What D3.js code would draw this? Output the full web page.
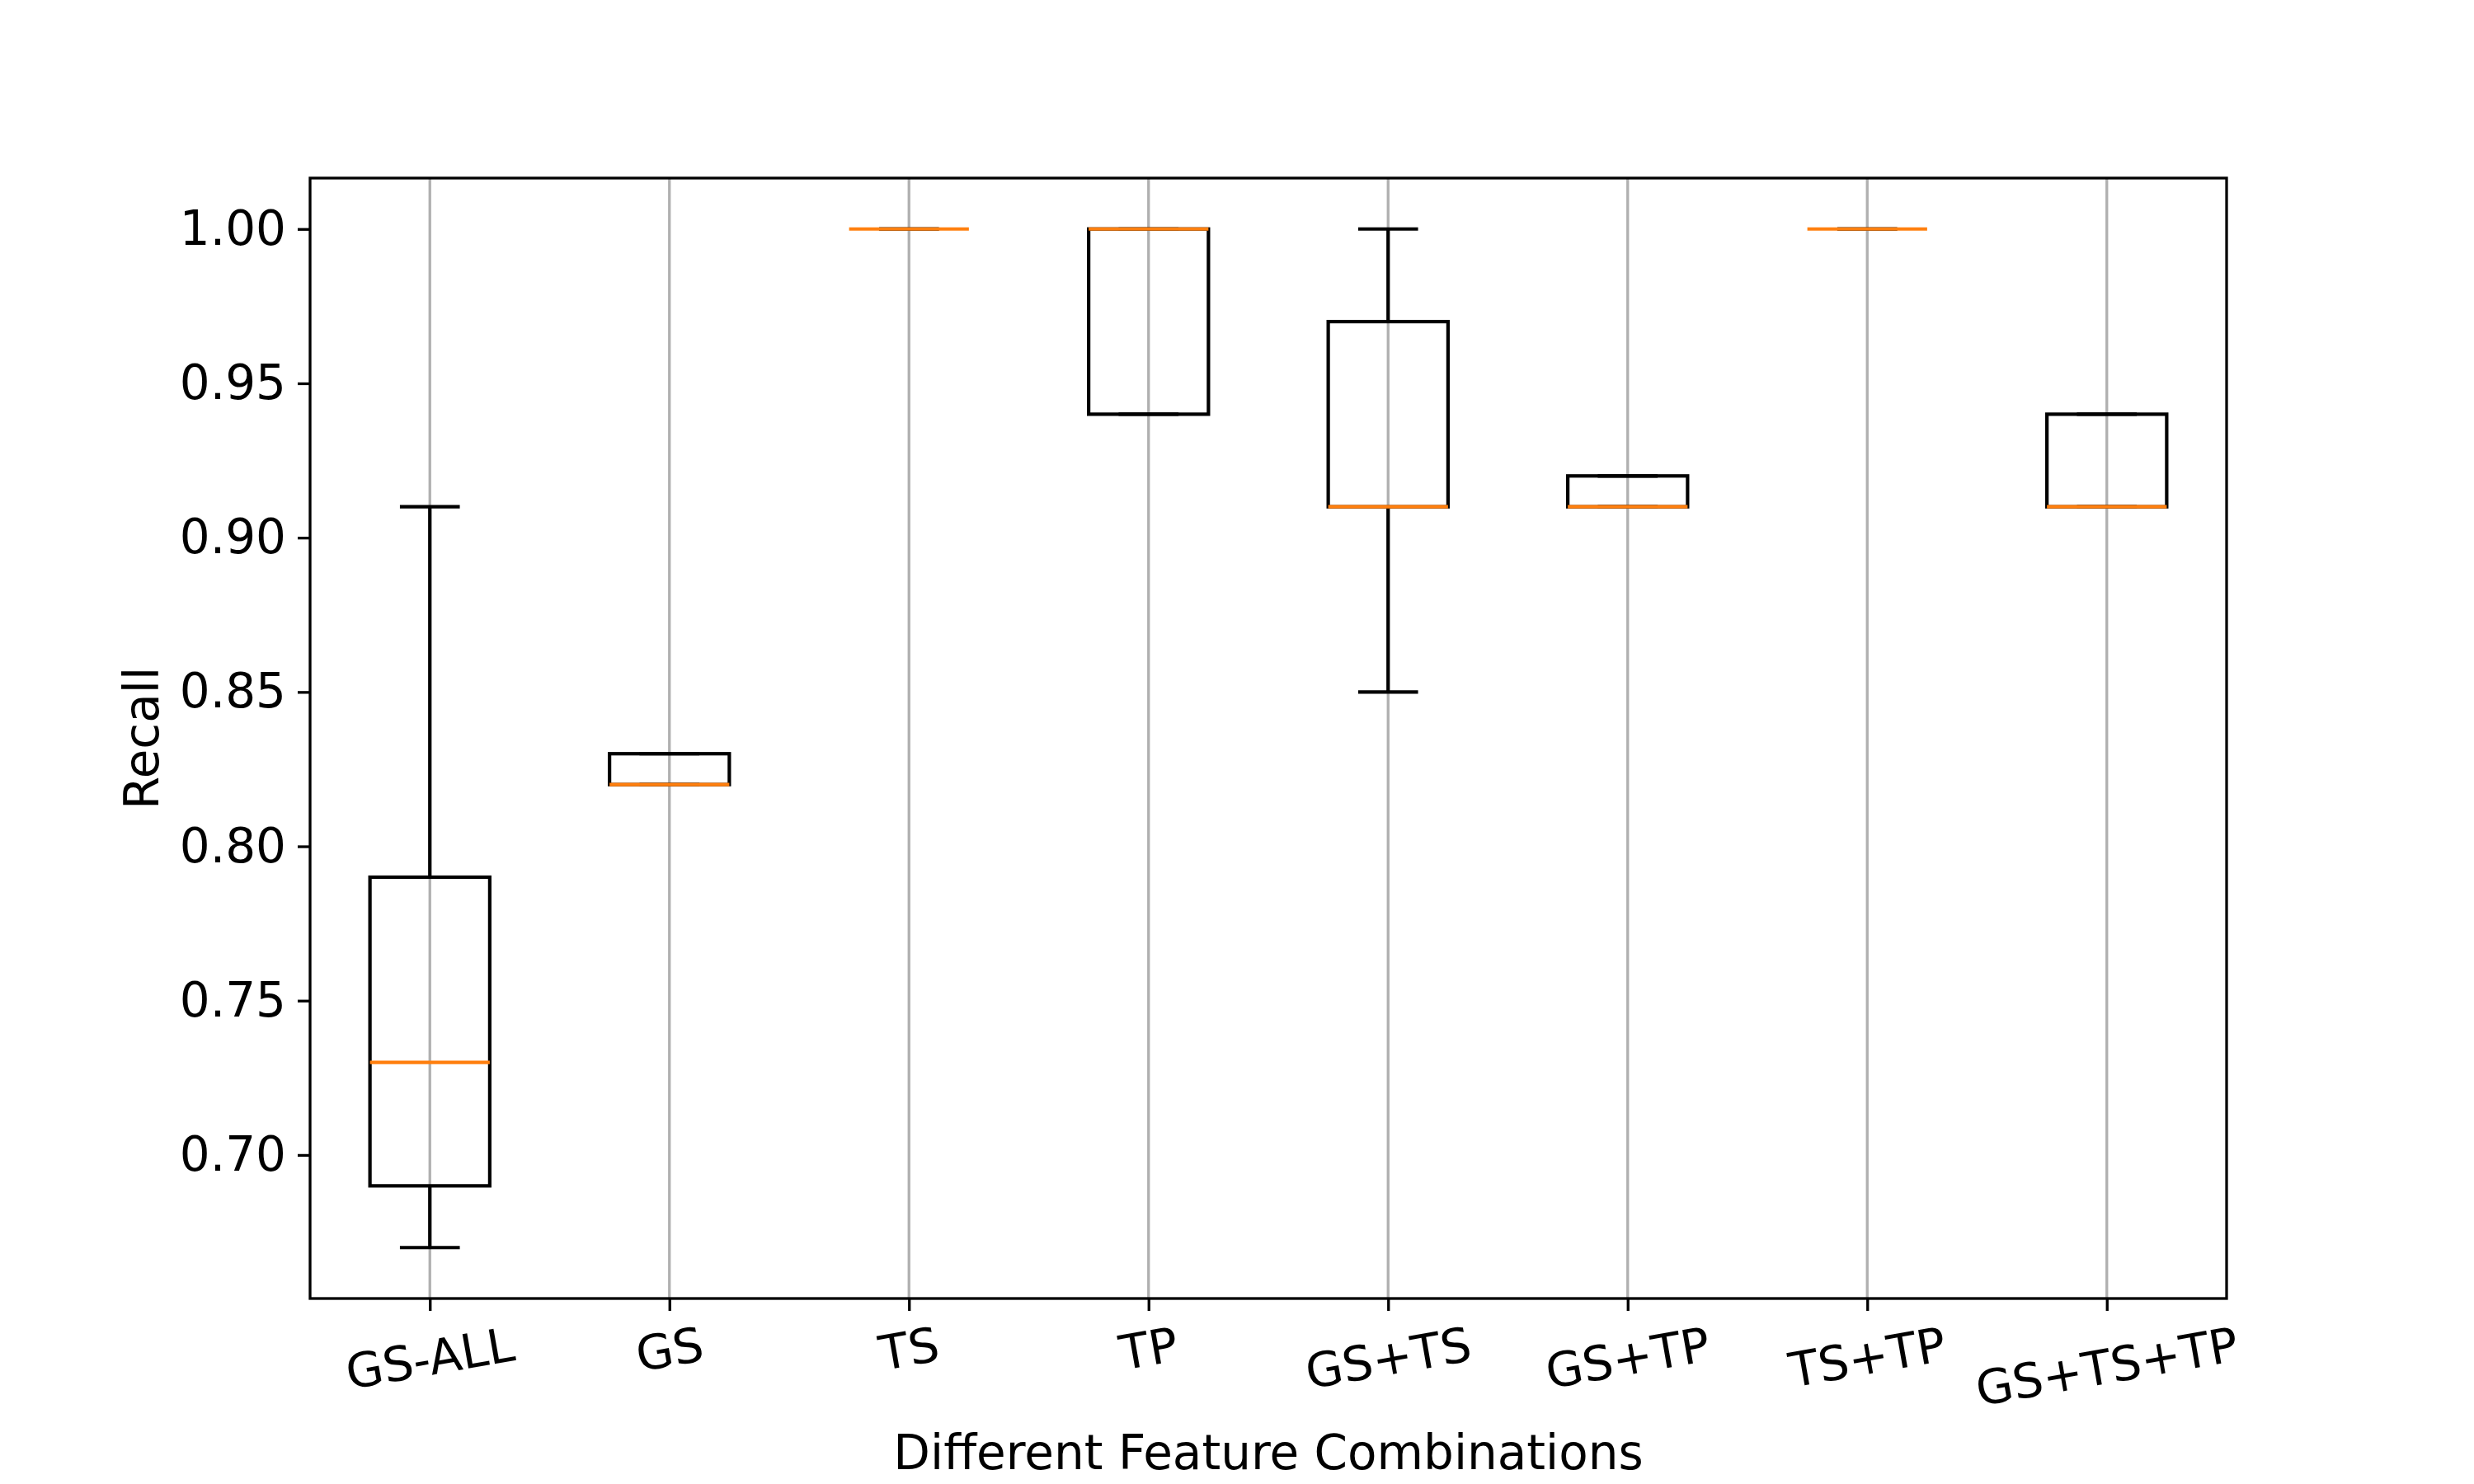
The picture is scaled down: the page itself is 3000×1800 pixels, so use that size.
<!DOCTYPE html>
<html>
<head>
<meta charset="utf-8">
<script src="https://cdn.jsdelivr.net/npm/d3@7"></script>
<style>
  body { margin: 0; background: #fff; }
  svg { display: block; font-family: "DejaVu Sans", sans-serif; }
</style>
</head>
<body>
<div id="chart"></div>
<script>
// Box plot data
const categories = ["GS-ALL", "GS", "TS", "TP", "GS+TS", "GS+TP", "TS+TP", "GS+TS+TP"];
const whiskerLow  = [0.67, 0.82, 1.00, 0.94, 0.85, 0.91, 1.00, 0.91];
const q1          = [0.69, 0.82, 1.00, 0.94, 0.91, 0.91, 1.00, 0.91];
const median      = [0.73, 0.82, 1.00, 1.00, 0.91, 0.91, 1.00, 0.91];
const q3          = [0.79, 0.83, 1.00, 1.00, 0.97, 0.92, 1.00, 0.94];
const whiskerHigh = [0.91, 0.83, 1.00, 1.00, 1.00, 0.92, 1.00, 0.94];
const yTicks = [0.70, 0.75, 0.80, 0.85, 0.90, 0.95, 1.00];
const yDomain = [0.6535, 1.0165];
const xLabel = "Different Feature Combinations";
const yLabel = "Recall";

try {
    const width = 3000;
    const height = 1800;
    const plot = { left: 376, right: 2700, top: 216, bottom: 1575 };
    const fontSize = 58;
    const tickLen = 15;

    const svg = d3.select("#chart")
        .append("svg")
        .attr("width", width)
        .attr("height", height);

    svg.append("rect")
        .attr("width", width)
        .attr("height", height)
        .attr("fill", "#fff");

    const boxes = categories.map((c, i) => ({
        name: c, pos: i + 1,
        lo: whiskerLow[i], q1: q1[i], med: median[i], q3: q3[i], hi: whiskerHigh[i]
    }));

    const x = d3.scaleLinear()
        .domain([0.5, categories.length + 0.5])
        .range([plot.left, plot.right]);

    const y = d3.scaleLinear()
        .domain(yDomain)
        .range([plot.bottom, plot.top]);

    const boxW = x(1.25) - x(1);   // half width of box (widths = 0.5)
    const capW = boxW / 2;

    // Vertical grid
    svg.append("g")
        .selectAll("line")
        .data(boxes)
        .enter()
        .append("line")
        .attr("x1", d => x(d.pos))
        .attr("x2", d => x(d.pos))
        .attr("y1", plot.top)
        .attr("y2", plot.bottom)
        .attr("stroke", "#b0b0b0")
        .attr("stroke-width", 3.3);

    const g = svg.append("g")
        .selectAll(".box")
        .data(boxes)
        .enter()
        .append("g")
        .attr("class", "box");

    // whiskers
    g.append("line")
        .attr("x1", d => x(d.pos)).attr("x2", d => x(d.pos))
        .attr("y1", d => y(d.lo)).attr("y2", d => y(d.q1))
        .attr("stroke", "#000").attr("stroke-width", 4.2);
    g.append("line")
        .attr("x1", d => x(d.pos)).attr("x2", d => x(d.pos))
        .attr("y1", d => y(d.q3)).attr("y2", d => y(d.hi))
        .attr("stroke", "#000").attr("stroke-width", 4.2);

    // caps
    g.append("line")
        .attr("x1", d => x(d.pos) - capW).attr("x2", d => x(d.pos) + capW)
        .attr("y1", d => y(d.lo)).attr("y2", d => y(d.lo))
        .attr("stroke", "#000").attr("stroke-width", 4.2);
    g.append("line")
        .attr("x1", d => x(d.pos) - capW).attr("x2", d => x(d.pos) + capW)
        .attr("y1", d => y(d.hi)).attr("y2", d => y(d.hi))
        .attr("stroke", "#000").attr("stroke-width", 4.2);

    // box
    g.append("rect")
        .attr("x", d => x(d.pos) - boxW)
        .attr("y", d => y(d.q3))
        .attr("width", boxW * 2)
        .attr("height", d => y(d.q1) - y(d.q3))
        .attr("fill", "none")
        .attr("stroke", "#000")
        .attr("stroke-width", 4.2);

    // median
    g.append("line")
        .attr("x1", d => x(d.pos) - boxW).attr("x2", d => x(d.pos) + boxW)
        .attr("y1", d => y(d.med)).attr("y2", d => y(d.med))
        .attr("stroke", "#ff7f0e").attr("stroke-width", 4.2);

    // Y axis
    const yAxis = svg.append("g")
        .attr("transform", `translate(${plot.left},0)`)
        .call(d3.axisLeft(y).tickValues(yTicks).tickFormat(d3.format(".2f"))
            .tickSize(tickLen).tickPadding(14));
    yAxis.select(".domain").remove();
    yAxis.selectAll(".tick line").attr("stroke", "#000").attr("stroke-width", 3.3);
    yAxis.selectAll(".tick text")
        .attr("fill", "#000")
        .style("font-size", fontSize + "px")
        .style("font-family", "DejaVu Sans");

    // X axis ticks
    const xAxis = svg.append("g")
        .attr("transform", `translate(0,${plot.bottom})`)
        .call(d3.axisBottom(x).tickValues(boxes.map(d => d.pos)).tickFormat("")
            .tickSize(tickLen));
    xAxis.select(".domain").remove();
    xAxis.selectAll(".tick line").attr("stroke", "#000").attr("stroke-width", 3.3);

    // X tick labels rotated 10 degrees
    const angle = 10 * Math.PI / 180;
    const capH = 0.729 * fontSize;
    const inkTop = 1608;
    const xLabels = svg.append("g")
        .selectAll("text")
        .data(boxes)
        .enter()
        .append("text")
        .attr("text-anchor", "middle")
        .style("font-size", fontSize + "px")
        .attr("fill", "#000")
        .text(d => d.name);
    xLabels.each(function(d) {
        const w = this.getComputedTextLength();
        const H = w * Math.sin(angle) + capH * Math.cos(angle);
        const cx = x(d.pos);
        const cy = inkTop + H / 2;
        d3.select(this)
            .attr("x", cx)
            .attr("y", cy + capH / 2)
            .attr("transform", `rotate(-10,${cx},${cy})`);
    });

    // Frame
    svg.append("rect")
        .attr("x", plot.left)
        .attr("y", plot.top)
        .attr("width", plot.right - plot.left)
        .attr("height", plot.bottom - plot.top)
        .attr("fill", "none")
        .attr("stroke", "#000")
        .attr("stroke-width", 3.3);

    // Axis titles
    svg.append("text")
        .attr("x", (plot.left + plot.right) / 2)
        .attr("y", 1782)
        .attr("text-anchor", "middle")
        .style("font-size", fontSize + "px")
        .attr("fill", "#000")
        .text(xLabel);

    svg.append("text")
        .attr("transform", `translate(192,${(plot.top + plot.bottom) / 2}) rotate(-90)`)
        .attr("text-anchor", "middle")
        .style("font-size", fontSize + "px")
        .attr("fill", "#000")
        .text(yLabel);

} catch (error) {
    console.error('Error rendering box plot:', error);
    document.getElementById('chart').innerHTML = `<p style="color:red">Error: ${error.message}</p>`;
}
</script>
</body>
</html>
